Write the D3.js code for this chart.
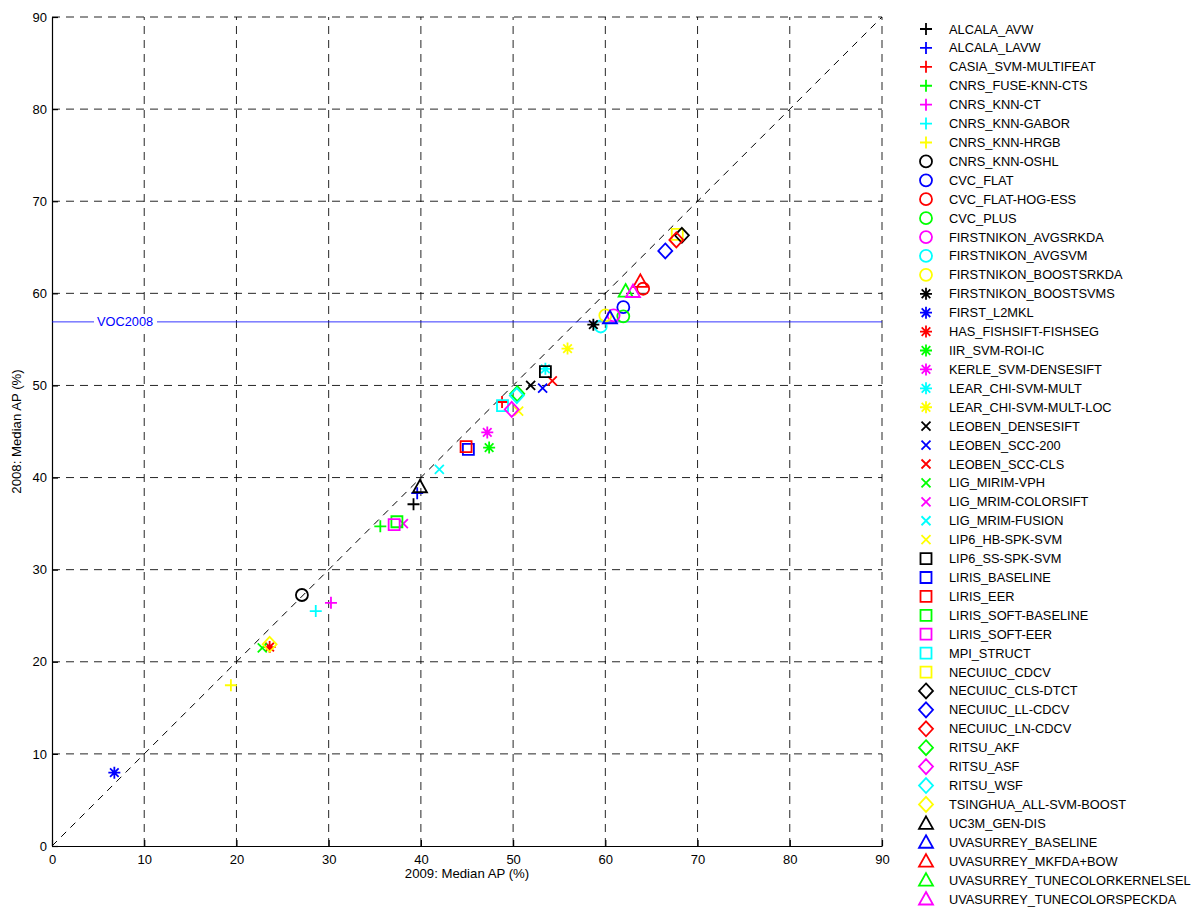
<!DOCTYPE html>
<html><head><meta charset="utf-8">
<script src="https://cdn.jsdelivr.net/npm/d3@7/dist/d3.min.js"></script>
<style>body{margin:0;background:#fff;} text{font-family:"Liberation Sans",Arial,Helvetica,sans-serif;}</style>
</head><body><svg id="c" width="1197" height="907"></svg>
<script>
const methods = ["ALCALA_AVW","ALCALA_LAVW","CASIA_SVM-MULTIFEAT","CNRS_FUSE-KNN-CTS","CNRS_KNN-CT","CNRS_KNN-GABOR","CNRS_KNN-HRGB","CNRS_KNN-OSHL","CVC_FLAT","CVC_FLAT-HOG-ESS","CVC_PLUS","FIRSTNIKON_AVGSRKDA","FIRSTNIKON_AVGSVM","FIRSTNIKON_BOOSTSRKDA","FIRSTNIKON_BOOSTSVMS","FIRST_L2MKL","HAS_FISHSIFT-FISHSEG","IIR_SVM-ROI-IC","KERLE_SVM-DENSESIFT","LEAR_CHI-SVM-MULT","LEAR_CHI-SVM-MULT-LOC","LEOBEN_DENSESIFT","LEOBEN_SCC-200","LEOBEN_SCC-CLS","LIG_MIRIM-VPH","LIG_MRIM-COLORSIFT","LIG_MRIM-FUSION","LIP6_HB-SPK-SVM","LIP6_SS-SPK-SVM","LIRIS_BASELINE","LIRIS_EER","LIRIS_SOFT-BASELINE","LIRIS_SOFT-EER","MPI_STRUCT","NECUIUC_CDCV","NECUIUC_CLS-DTCT","NECUIUC_LL-CDCV","NECUIUC_LN-CDCV","RITSU_AKF","RITSU_ASF","RITSU_WSF","TSINGHUA_ALL-SVM-BOOST","UC3M_GEN-DIS","UVASURREY_BASELINE","UVASURREY_MKFDA+BOW","UVASURREY_TUNECOLORKERNELSEL","UVASURREY_TUNECOLORSPECKDA"];
const ap2009 = [39.2,39.6,48.8,35.6,30.25,28.6,19.4,27.1,61.95,64.1,61.95,60.9,59.5,60.0,58.7,6.76,23.6,47.4,47.2,53.5,55.9,51.9,53.2,54.25,22.8,38.1,42.0,50.6,53.5,45.15,44.9,37.4,37.1,48.85,67.8,68.3,66.5,67.7,50.45,49.85,50.4,23.6,39.9,60.5,63.8,62.2,63.0];
const ap2008 = [37.1,38.3,48.2,34.7,26.4,25.5,17.45,27.25,58.5,60.5,57.5,57.6,56.4,57.6,56.6,7.96,21.6,43.25,44.9,51.8,54.0,50.0,49.7,50.5,21.5,35.0,40.9,47.2,51.5,43.05,43.35,35.2,34.9,47.8,66.4,66.3,64.6,65.8,49.1,47.4,48.9,21.9,39.0,57.35,61.3,60.25,60.2];
const xTicks = [0,10,20,30,40,50,60,70,80,90];
const yTicks = [0,10,20,30,40,50,60,70,80,90];
const voc2008 = 56.9;
const xTitle = "2009: Median AP (%)";
const yTitle = "2008: Median AP (%)";
const refLabel = "VOC2008";

const colors = ["#000000","#0000ff","#ff0000","#00ff00","#ff00ff","#00ffff","#ffff00"];
const shapes = ["plus","circle","star","cross","square","diamond","triangle"];

const svg = d3.select("#c");
const L=52,R=882,T=17,B=846;
const x = d3.scaleLinear().domain([0,90]).range([L,R]);
const y = d3.scaleLinear().domain([0,90]).range([B,T]);

function markerPath(s){
  switch(s){
    case "plus": return "M-6,0H6M0,-6V6";
    case "cross": return "M-4.5,-4.5L4.5,4.5M-4.5,4.5L4.5,-4.5";
    case "star": return "M-6,0H6M0,-6V6M-4.3,-4.3L4.3,4.3M-4.3,4.3L4.3,-4.3";
    case "square": return "M-5.5,-5.5H5.5V5.5H-5.5Z";
    case "diamond": return "M0,-7.5L7,0L0,7.5L-7,0Z";
    case "triangle": return "M0,-7L7,5.5H-7Z";
    case "circle": return "M6,0A6,6,0,1,1,-6,0A6,6,0,1,1,6,0Z";
  }
}

// grid
const g = svg.append("g");
g.selectAll(".gx").data(xTicks.slice(1)).enter().append("line")
 .attr("x1",d=>x(d)).attr("x2",d=>x(d)).attr("y1",B).attr("y2",T)
 .attr("stroke","#000").attr("stroke-width",1).attr("stroke-dasharray","8,6").attr("opacity",0.85);
g.selectAll(".gy").data(yTicks.slice(1)).enter().append("line")
 .attr("y1",d=>y(d)).attr("y2",d=>y(d)).attr("x1",L).attr("x2",R)
 .attr("stroke","#000").attr("stroke-width",1).attr("stroke-dasharray","8,6").attr("opacity",0.85);

// diagonal
g.append("line").attr("x1",x(0)).attr("y1",y(0)).attr("x2",x(90)).attr("y2",y(90))
 .attr("stroke","#000").attr("stroke-width",1).attr("stroke-dasharray","7,6");

// axes
const xAxis = d3.axisBottom(x).tickValues(xTicks).tickSizeInner(-6).tickSizeOuter(0).tickPadding(9);
const yAxis = d3.axisLeft(y).tickValues(yTicks).tickSizeInner(-6).tickSizeOuter(0).tickPadding(9);
const ax = svg.append("g").attr("transform",`translate(0,${B})`).call(xAxis);
const ay = svg.append("g").attr("transform",`translate(${L},0)`).call(yAxis);
[ax,ay].forEach(a=>{
  a.select(".domain").attr("stroke","#000").attr("stroke-width",1.2);
  a.selectAll(".tick line").attr("stroke","#000").attr("stroke-width",1.2);
  a.selectAll(".tick text").attr("font-size",13).attr("fill","#000").attr("font-family","Liberation Sans, Arial, sans-serif");
});
ay.selectAll(".tick text").attr("dx","4");

svg.append("text").attr("x",(L+R)/2).attr("y",878).attr("text-anchor","middle").attr("font-size",13.2).text(xTitle);
svg.append("text").attr("transform",`translate(21,${(T+B)/2}) rotate(-90)`).attr("text-anchor","middle").attr("font-size",13.2).text(yTitle);

// VOC2008 line
svg.append("line").attr("x1",L).attr("x2",R).attr("y1",y(voc2008)).attr("y2",y(voc2008)).attr("stroke","#0000ff").attr("stroke-width",0.8);
svg.append("rect").attr("x",94).attr("y",y(voc2008)-6).attr("width",63).attr("height",12).attr("fill","#fff");
svg.append("text").attr("x",97).attr("y",y(voc2008)+4.5).attr("font-size",12.8).attr("fill","#0000ff").text(refLabel);

// points
const data = methods.map((m,i)=>({m,i,x:ap2009[i],y:ap2008[i]}));
svg.append("g").selectAll("path").data(data).enter().append("path")
 .attr("transform",d=>`translate(${x(d.x)},${y(d.y)})`)
 .attr("d",d=>markerPath(shapes[Math.floor(d.i/7)]))
 .attr("fill","none").attr("stroke",d=>colors[d.i%7]).attr("stroke-width",1.8);

// legend
const lg = svg.append("g");
const ly = d3.scaleLinear().domain([0,methods.length-1]).range([29,899]);
const items = lg.selectAll("g").data(data).enter().append("g").attr("transform",d=>`translate(0,${ly(d.i)})`);
items.append("path").attr("transform","translate(926,0)")
 .attr("d",d=>markerPath(shapes[Math.floor(d.i/7)]))
 .attr("fill","none").attr("stroke",d=>colors[d.i%7]).attr("stroke-width",1.8);
items.append("text").attr("x",949).attr("y",4.5).attr("font-size",12.8).text(d=>d.m);
</script></body></html>
